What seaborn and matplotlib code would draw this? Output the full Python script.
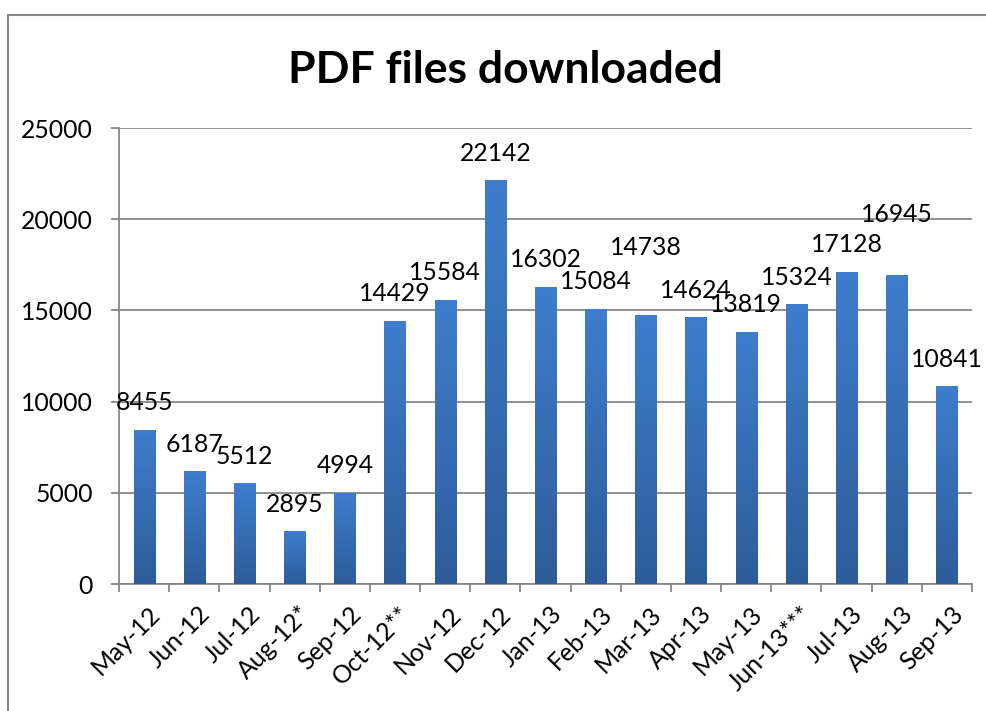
import numpy as np
import matplotlib
matplotlib.use("Agg")
import matplotlib.pyplot as plt
import matplotlib.transforms as mtransforms
from matplotlib.colors import LinearSegmentedColormap
from matplotlib.patches import Rectangle
import seaborn as sns

# ---- data ----
months = ["May-12", "Jun-12", "Jul-12", "Aug-12*", "Sep-12", "Oct-12**", "Nov-12",
          "Dec-12", "Jan-13", "Feb-13", "Mar-13", "Apr-13", "May-13", "Jun-13***",
          "Jul-13", "Aug-13", "Sep-13"]
downloads = [8455, 6187, 5512, 2895, 4994, 14429, 15584, 22142, 16302, 15084,
             14738, 14624, 13819, 15324, 17128, 16945, 10841]
title = "PDF files downloaded"
y_ticks = [0, 5000, 10000, 15000, 20000, 25000]

# ---- style ----
sns.set_theme(style="white")
plt.rcParams["font.family"] = ["Lato", "DejaVu Sans"]
grid_col = "#878787"
top_col = "#3E7ECD"
bot_col = "#2D5C99"
label_offset_px = 27
label_offset_special = {10: 68, 15: 60}
fs = 17.8

W, H = 986, 711
fig = plt.figure(figsize=(W / 100, H / 100), dpi=100)
ax = fig.add_axes([119 / W, 1 - 584 / H, (972 - 119) / W, (584 - 128) / H])

sns.barplot(x=months, y=downloads, color=top_col, width=0.42, ax=ax, zorder=3)

# gradient fill for each bar
cmap = LinearSegmentedColormap.from_list("bar", [bot_col, top_col])
grad = np.linspace(0, 1, 256).reshape(-1, 1)
for p in ax.patches:
    x0, y0 = p.get_x(), p.get_y()
    w, h = p.get_width(), p.get_height()
    p.set_edgecolor("none")
    im = ax.imshow(grad, cmap=cmap, origin="lower", aspect="auto",
                   extent=[x0, x0 + w, y0, y0 + h], zorder=4)
    im.set_clip_path(p)

ax.set_xlim(-0.5, len(months) - 0.5)
ax.set_ylim(0, 25000)
ax.set_yticks(y_ticks)
ax.set_yticklabels([str(v) for v in y_ticks])
ax.set_xlabel("")
ax.set_ylabel("")

# gridlines
ax.yaxis.grid(True, color=grid_col, linewidth=1.3, zorder=0)
ax.xaxis.grid(False)
ax.set_axisbelow(True)

for s in ["top", "right"]:
    ax.spines[s].set_visible(False)
for s in ["left", "bottom"]:
    ax.spines[s].set_color(grid_col)
    ax.spines[s].set_linewidth(1.3)

# ticks
ax.tick_params(axis="y", which="major", length=6, width=1.3, color=grid_col,
               pad=13, labelsize=fs, labelcolor="black", left=True)
ax.set_xticks(np.arange(-0.5, len(months) + 0.5, 1), minor=True)
ax.tick_params(axis="x", which="minor", length=6, width=1.3, color=grid_col,
               bottom=True, direction="out")
ax.tick_params(axis="x", which="major", length=0, pad=13, labelsize=fs,
               labelcolor="black")
offset = mtransforms.ScaledTranslation(4 / 100, 0, fig.dpi_scale_trans)
for lbl in ax.get_xticklabels():
    lbl.set_rotation(45)
    lbl.set_ha("right")
    lbl.set_va("top")
    lbl.set_rotation_mode("anchor")
    lbl.set_transform(lbl.get_transform() + offset)

# data labels
for i, v in enumerate(downloads):
    off = label_offset_special.get(i, label_offset_px) * 72 / 100
    ax.annotate(str(v), xy=(i, v), xytext=(0, off), textcoords="offset points",
                ha="center", va="center", fontsize=fs, color="black",
                zorder=6, annotation_clip=False)

# title
fig.text(505 / W, 1 - 83 / H, title, ha="center", va="baseline",
         fontsize=32, fontweight="bold", color="black")

# chart border
fig.patches.append(Rectangle((8 / W, -0.1), 1.2, 1 - 15 / H + 0.1,
                             transform=fig.transFigure, fill=False,
                             edgecolor=grid_col, linewidth=1.5))

fig.savefig("out.png", dpi=100)
